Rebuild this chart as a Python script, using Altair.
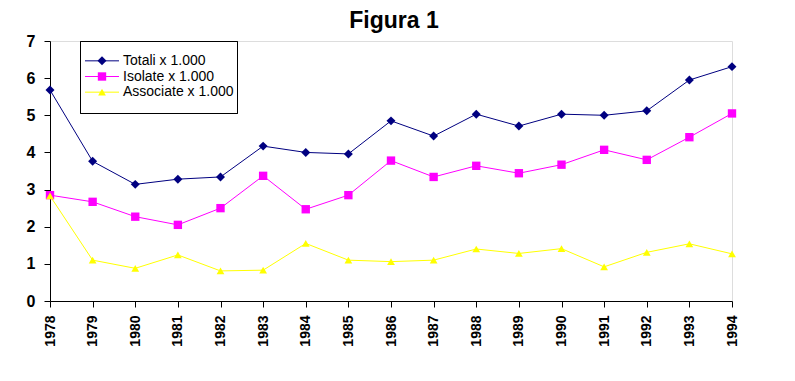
import altair as alt
import pandas as pd

years = list(range(1978, 1995))
totali = [5.68, 3.76, 3.14, 3.28, 3.34, 4.17, 4.00, 3.96, 4.85, 4.44, 5.03, 4.71, 5.03, 5.00, 5.12, 5.95, 6.31]
isolate = [2.85, 2.67, 2.27, 2.05, 2.50, 3.37, 2.47, 2.85, 3.78, 3.34, 3.64, 3.44, 3.67, 4.07, 3.80, 4.41, 5.05]
associate = [2.83, 1.10, 0.88, 1.24, 0.81, 0.83, 1.55, 1.10, 1.06, 1.10, 1.40, 1.28, 1.41, 0.92, 1.31, 1.54, 1.27]

names = ["Totali x 1.000", "Isolate x 1.000", "Associate x 1.000"]
colors = ["#000080", "#FF00FF", "#FFFF00"]
shapes = ["diamond", "square", "triangle-up"]
sizes = [80, 60, 75]

rows = []
for n, vals in zip(names, [totali, isolate, associate]):
    for y, v in zip(years, vals):
        rows.append({"anno": y, "valore": v, "serie": n})
df = pd.DataFrame(rows)
leg = pd.DataFrame({"serie": names})

FONT = "Liberation Sans"

color = alt.Color("serie:N", scale=alt.Scale(domain=names, range=colors), legend=None)
shape = alt.Shape("serie:N", scale=alt.Scale(domain=names, range=shapes), legend=None)
size = alt.Size("serie:N", scale=alt.Scale(domain=names, range=sizes), legend=None)

x = alt.X("anno:Q", scale=alt.Scale(domain=[1978, 1994], nice=False, zero=False),
          axis=alt.Axis(values=years, format="d", title=None, grid=False, labelAngle=270,
                        labelFont=FONT, labelFontSize=14, labelFontWeight="bold",
                        labelColor="black", tickColor="black", domainColor="black",
                        tickSize=6, labelPadding=8, labelFlush=False, labelOverlap=False))
y = alt.Y("valore:Q", scale=alt.Scale(domain=[0, 7], nice=False),
          axis=alt.Axis(values=list(range(8)), title=None, grid=False,
                        labelFont=FONT, labelFontSize=16, labelFontWeight="bold",
                        labelColor="black", tickColor="black", domainColor="black",
                        tickSize=6, labelPadding=9))

base = alt.Chart(df)
lines = base.mark_line(strokeWidth=1).encode(x=x, y=y, color=color, detail="serie:N")
points = base.mark_point(filled=True, opacity=1).encode(x=x, y=y, color=color, shape=shape, size=size)
data_layer = alt.layer(lines, points)

ly = alt.Y("serie:N", scale=alt.Scale(domain=names, range=[12, 59], padding=0), axis=None)
legbox = alt.Chart(leg).mark_rect(fill="white", stroke="black", strokeWidth=1).encode(
    x=alt.value(30.5), x2=alt.value(187.5), y=alt.value(0.5), y2=alt.value(72.5))
legrule = alt.Chart(leg).mark_rule(strokeWidth=1).encode(
    x=alt.value(35), x2=alt.value(69), y=ly, color=color)
legpt = alt.Chart(leg).mark_point(filled=True, opacity=1).encode(
    x=alt.value(52), y=ly, color=color, shape=shape, size=size)
legtxt = alt.Chart(leg).mark_text(align="left", baseline="middle", font=FONT, fontSize=14,
                                  color="black").encode(x=alt.value(73), y=ly, text="serie:N")
legend_layer = alt.layer(legbox, legrule, legpt, legtxt)

chart = alt.layer(data_layer, legend_layer).resolve_scale(
    y="independent"
).properties(
    width=682, height=260,
    title=alt.TitleParams("Figura 1", font=FONT, fontSize=23, fontWeight="bold",
                          color="black", anchor="middle", offset=0, dx=3),
    autosize=alt.AutoSizeParams(type="none"),
    padding={"left": 42, "top": 33, "right": 40, "bottom": 60},
).configure_view(stroke="black", strokeWidth=1).configure(background="white")

chart.save("out.html", embed_options={"renderer": "svg", "actions": False})
